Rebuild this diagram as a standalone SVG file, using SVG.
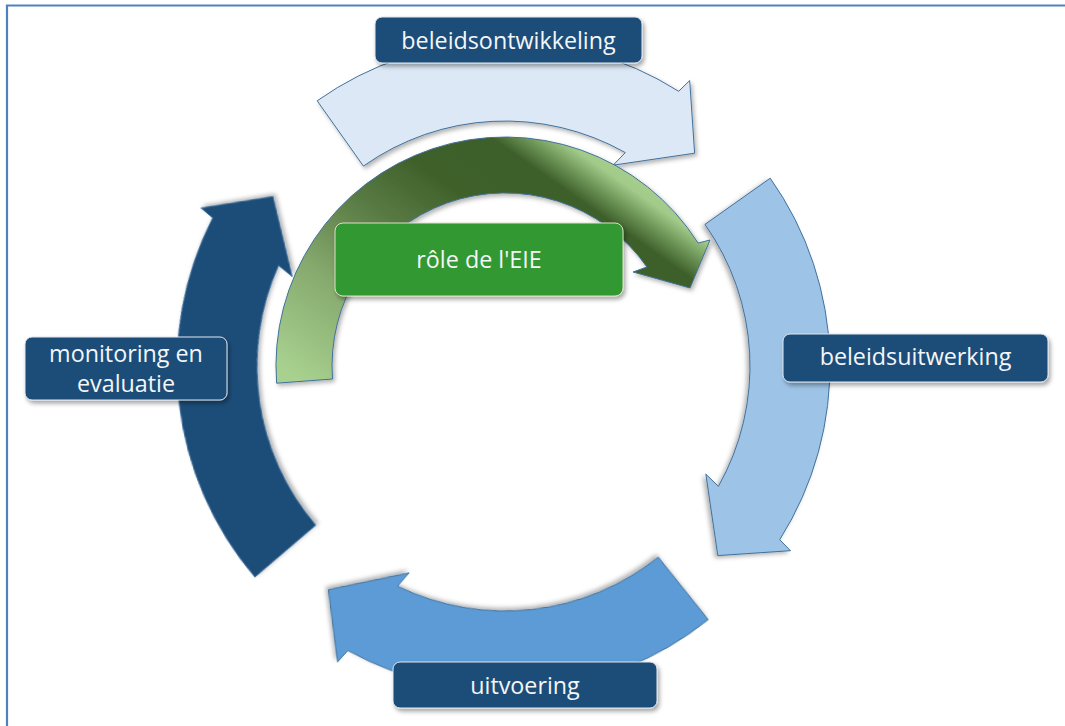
<svg xmlns="http://www.w3.org/2000/svg" width="1065" height="726" viewBox="0 0 1065 726">
  <style>
    .arrow { stroke: #41719c; stroke-width: 1; filter: url(#shadow); }
    .label rect { fill: #1f4e79; stroke: #dfe6ee; stroke-width: 1; filter: url(#lshadow); }
    .label text { fill: #f4f6f8; font-family: "Open Sans", "Noto Sans", sans-serif; font-size: 23.3px; text-anchor: middle; }
  </style>
  <defs>
    <filter id="shadow" x="-10%" y="-10%" width="125%" height="125%">
      <feDropShadow dx="2" dy="2.5" stdDeviation="2" flood-color="#000" flood-opacity="0.3"/>
    </filter>
    <filter id="lshadow" x="-10%" y="-20%" width="125%" height="150%">
      <feDropShadow dx="2" dy="3" stdDeviation="2" flood-color="#000" flood-opacity="0.35"/>
    </filter>
    <path id="cycleArrow" d="M -187.8,-265.2 A 325 325 0 0 1 173.7,-274.7 L 184.7,-285.5 L 189.6,-212.8 L 108.1,-200.8 L 120.3,-213.4 A 245 245 0 0 0 -141.6,-199.9 Z"/>
    <linearGradient id="greenGrad" gradientUnits="userSpaceOnUse" x1="303" y1="383" x2="515.8" y2="80.3">
      <stop offset="0" stop-color="#a8d18f"/>
      <stop offset="0.27" stop-color="#86a96e"/>
      <stop offset="0.48" stop-color="#5b7d46"/>
      <stop offset="0.67" stop-color="#3f6029"/>
      <stop offset="0.835" stop-color="#3e5f2b"/>
      <stop offset="0.89" stop-color="#6f9759"/>
      <stop offset="0.94" stop-color="#a2cb8a"/>
      <stop offset="1" stop-color="#a8d18f"/>
    </linearGradient>
  </defs>

  <rect x="0" y="0" width="1065" height="726" fill="#ffffff"/>
  <path d="M 7,726 L 7,5.5 L 1065,5.5" fill="none" stroke="#4f81bd" stroke-width="2.2"/>

  <g id="connectors">
    <use href="#cycleArrow" class="arrow" fill="#dce8f5" transform="translate(505,366)"/>
    <use href="#cycleArrow" class="arrow" fill="#9dc3e6" transform="translate(505,366) rotate(90)"/>
    <use href="#cycleArrow" class="arrow" fill="#5b9bd5" transform="translate(505,366) rotate(176.6)"/>
    <use href="#cycleArrow" class="arrow" fill="#1f4e79" transform="translate(502,366) rotate(264.8)"/>
    <path class="arrow" fill="url(#greenGrad)" d="M 276.6,383.2 A 229 229 0 0 1 698.1,243.0 L 710,240 L 690,288 L 633,272 L 646.9,267.0 A 173 173 0 0 0 332.5,379.0 Z"/>
  </g>

  <g id="beleidsontwikkeling" class="label">
    <rect x="375" y="17" width="267" height="46" rx="7"/>
    <text x="508.5" y="49">beleidsontwikkeling</text>
  </g>
  <g id="beleidsuitwerking" class="label">
    <rect x="783" y="334" width="265" height="48" rx="7"/>
    <text x="915.5" y="365">beleidsuitwerking</text>
  </g>
  <g id="uitvoering" class="label">
    <rect x="393" y="662" width="264" height="46" rx="7"/>
    <text x="525" y="694">uitvoering</text>
  </g>
  <g id="monitoring-en-evaluatie" class="label">
    <rect x="25" y="337" width="202" height="63" rx="7"/>
    <text x="126" y="362">monitoring en</text>
    <text x="126" y="392">evaluatie</text>
  </g>
  <g id="role-eie" class="label">
    <rect x="335" y="223" width="288" height="73" rx="8" style="fill:#339933;stroke:#d9dfc4"/>
    <text x="479" y="268">rôle de l'EIE</text>
  </g>
</svg>
